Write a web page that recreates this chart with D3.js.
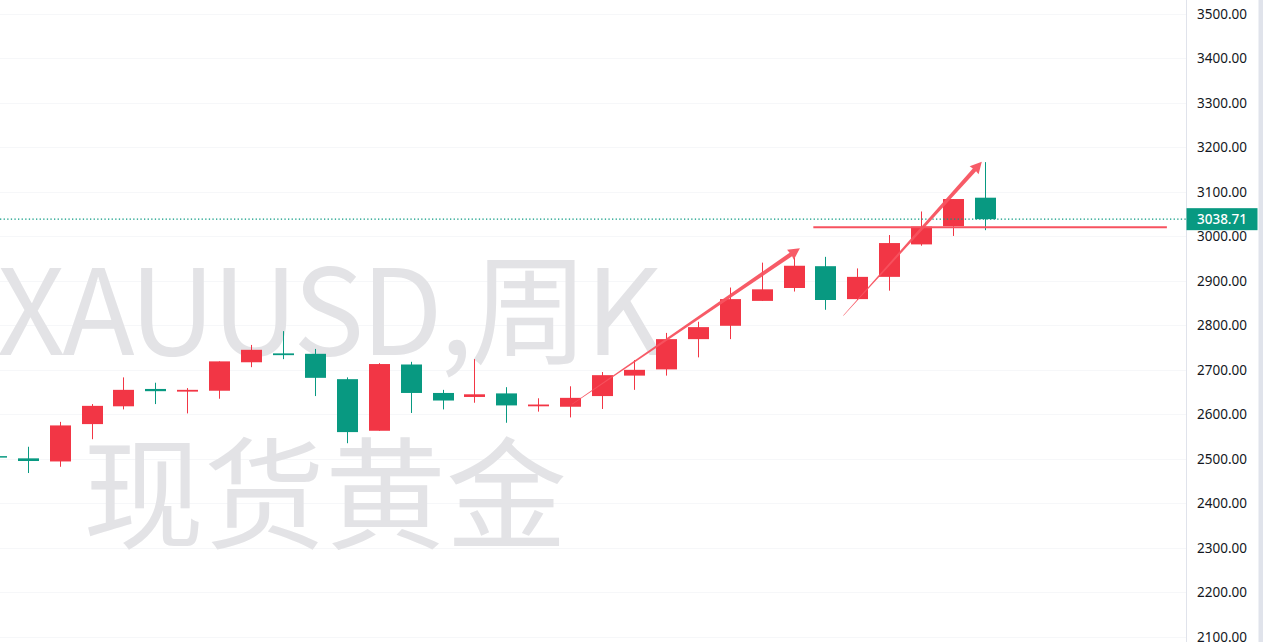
<!DOCTYPE html>
<html><head><meta charset="utf-8">
<script src="https://cdn.jsdelivr.net/npm/d3@7"></script>
<style>html,body{margin:0;padding:0;background:#fff;overflow:hidden}</style>
</head><body><svg id="c" width="1263" height="642"></svg>
<script>
// ---- data (weekly XAUUSD) ----
const weeks = ["2024-08-26","2024-09-02","2024-09-09","2024-09-16","2024-09-23","2024-09-30","2024-10-07","2024-10-14","2024-10-21","2024-10-28","2024-11-04","2024-11-11","2024-11-18","2024-11-25","2024-12-02","2024-12-09","2024-12-16","2024-12-23","2024-12-30","2025-01-06","2025-01-13","2025-01-20","2025-01-27","2025-02-03","2025-02-10","2025-02-17","2025-02-24","2025-03-03","2025-03-10","2025-03-17","2025-03-24","2025-03-31"];
const opens  = [2506,2501,2494,2578,2618,2657,2651,2653,2717,2737,2736,2679,2563,2712,2648,2639,2647,2618,2617,2641,2687,2701,2769,2799,2855,2884,2933,2859,2909,2982,3023,3087];
const highs  = [2528,2527,2583,2623,2683,2671,2659,2719,2756,2787,2747,2683,2715,2718,2655,2724,2661,2636,2663,2695,2722,2783,2808,2885,2941,2952,2954,2928,3003,3056,3084,3167];
const lows   = [2471,2468,2482,2544,2611,2623,2602,2635,2706,2724,2641,2535,2563,2603,2611,2626,2581,2606,2593,2612,2655,2687,2728,2769,2855,2876,2835,2857,2878,2979,3001,3014];
const closes = [2503,2495,2575,2619,2655,2652,2655,2719,2745,2733,2682,2560,2713,2648,2631,2645,2620,2622,2637,2688,2700,2769,2796,2859,2881,2934,2857,2909,2985,3022,3084,3038.71];
const yTicks = d3.range(2100, 3501, 100);
const lastPrice = 3038.71;
// annotations in (bar index, price)
const arrowStarts = [[18.06, 2622.5], [26.56, 2821.7]];
const arrowEnds   = [[25.2, 2973.2], [30.9, 3167.9]];
const levelPrice = 3020.5, levelFrom = 25.62, levelTo = 36.7;
const watermark = ["XAUUSD,周K", "现货黄金"];

const bars = weeks.map((w,i)=>({w, i, o:opens[i], h:highs[i], l:lows[i], c:closes[i]}));

const W = 1263, H = 642, paneR = 1186;
const UP = "#F23645", DOWN = "#089981", ANN = "#F7525F";
const svg = d3.select("#c");

const x = d3.scaleLinear().domain([1, 31]).range([27.7, 985]);
const y = d3.scaleLinear().domain([2100, 3500]).range([636.7, 14]);
const step = x(2) - x(1);
const bw = Math.round(step * 0.66);

const pane = svg.append("g");
pane.append("clipPath").attr("id","pc").append("rect").attr("width",paneR).attr("height",H);
const g = pane.append("g").attr("clip-path","url(#pc)");

// grid
g.append("g").selectAll("line").data(yTicks).join("line")
  .attr("x1",0).attr("x2",paneR)
  .attr("y1",d=>Math.round(y(d))+0.5).attr("y2",d=>Math.round(y(d))+0.5)
  .attr("stroke","#f6f7f9").attr("stroke-width",1);

// watermark
const wm = g.append("g").attr("fill","#e3e3e6").attr("font-family","'Noto Sans CJK SC','Noto Sans',sans-serif");
wm.append("text").attr("x",-3).attr("y",355).attr("font-size",119).attr("letter-spacing",-3.2).text(watermark[0]);
wm.append("text").attr("x",83).attr("y",539).attr("font-size",121).text(watermark[1]);

// candles
const cg = g.append("g");
const cand = cg.selectAll("g").data(bars).join("g")
  .attr("fill", d=>d.c>=d.o?UP:DOWN).attr("stroke", d=>d.c>=d.o?UP:DOWN);
cand.append("line")
  .attr("x1",d=>Math.round(x(d.i))+0.5).attr("x2",d=>Math.round(x(d.i))+0.5)
  .attr("y1",d=>y(d.h)).attr("y2",d=>y(d.l)).attr("stroke-width",1);
cand.append("rect")
  .attr("x",d=>Math.round(x(d.i))-Math.floor(bw/2)).attr("width",bw)
  .attr("y",d=>y(Math.max(d.o,d.c)))
  .attr("height",d=>Math.max(1.5, Math.abs(y(d.o)-y(d.c))))
  .attr("stroke","none");

// last price dotted line
g.append("line").attr("x1",0).attr("x2",paneR)
  .attr("y1",y(lastPrice)).attr("y2",y(lastPrice))
  .attr("stroke",DOWN).attr("stroke-width",1.2).attr("stroke-dasharray","1.3,2.3");

// horizontal level
g.append("line").attr("x1",x(levelFrom)).attr("x2",x(levelTo))
  .attr("y1",y(levelPrice)).attr("y2",y(levelPrice))
  .attr("stroke",ANN).attr("stroke-width",2);

// arrows (tapered)
arrowStarts.forEach((s,k)=>{
  const e = arrowEnds[k];
  const sx=x(s[0]), sy=y(s[1]), ex=x(e[0]), ey=y(e[1]);
  const len=Math.hypot(ex-sx,ey-sy), ux=(ex-sx)/len, uy=(ey-sy)/len, nx=-uy, ny=ux;
  const L=11, HW=6, bx=ex-ux*L, by=ey-uy*L;
  const pts=[[sx+nx*0.25,sy+ny*0.25],[bx+nx*2.2,by+ny*2.2],[bx+nx*HW - ux*0.5,by+ny*HW-uy*0.5],[ex,ey],
             [bx-nx*HW-ux*0.5,by-ny*HW-uy*0.5],[bx-nx*2.2,by-ny*2.2],[sx-nx*0.25,sy-ny*0.25]];
  g.append("path").attr("d", d3.line()(pts)+"Z").attr("fill",ANN).attr("opacity",0.95);
});

// right axis
const ax = svg.append("g");
ax.append("rect").attr("x",paneR).attr("y",0).attr("width",W-paneR).attr("height",H).attr("fill","#fff");
ax.append("line").attr("x1",paneR+0.5).attr("x2",paneR+0.5).attr("y1",0).attr("y2",H).attr("stroke","#e0e3eb");
ax.append("rect").attr("x",1258.5).attr("y",0).attr("width",W-1258.5).attr("height",H).attr("fill","#e0e3eb");
ax.append("g").selectAll("text").data(yTicks).join("text")
  .attr("x",1197).attr("y",d=>y(d)).attr("dy","0.36em")
  .attr("font-family","'Noto Sans',sans-serif").attr("font-size",13.5).attr("fill","#131722")
  .text(d=>d3.format(".2f")(d));
// last price label
ax.append("rect").attr("x",paneR+0.5).attr("y",y(lastPrice)-11).attr("width",71).attr("height",22).attr("fill",DOWN);
ax.append("text").attr("x",paneR+0.5+35.5).attr("y",y(lastPrice)).attr("dy","0.36em").attr("text-anchor","middle")
  .attr("font-family","'Noto Sans',sans-serif").attr("font-size",13.5).attr("fill","#fff").attr("font-weight",500)
  .text(d3.format(".2f")(lastPrice));
</script></body></html>
